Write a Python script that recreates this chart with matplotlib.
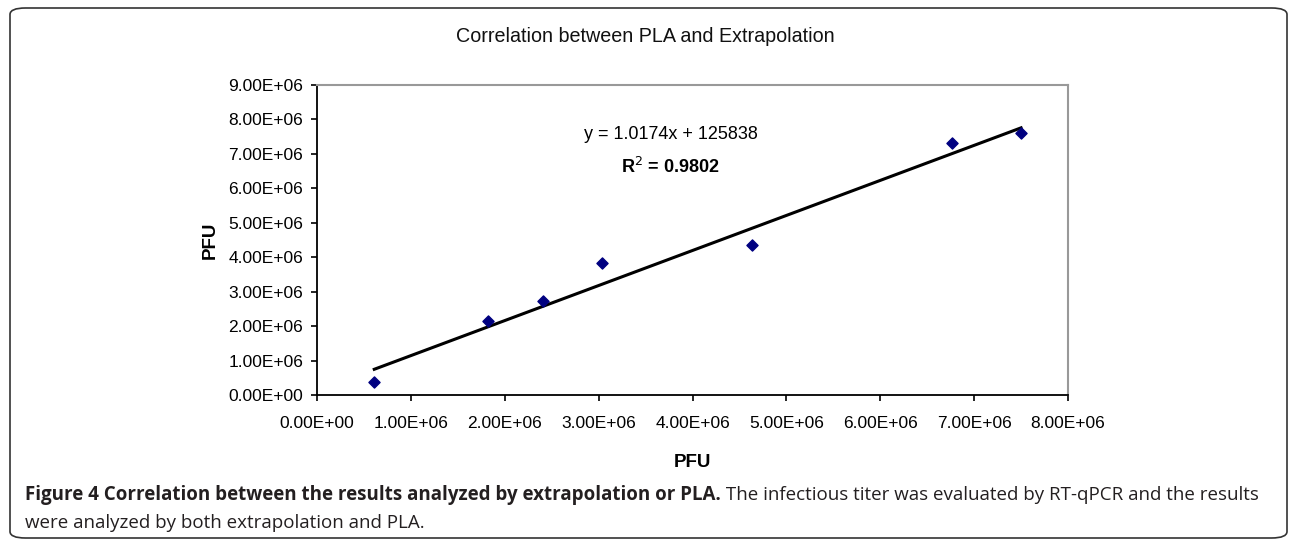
import matplotlib
matplotlib.use("Agg")
import matplotlib.pyplot as plt
from matplotlib.patches import FancyBboxPatch
import numpy as np

# PFU by extrapolation (x) vs PFU by PLA (y)
pfu_extrap = [0.61e6, 1.82e6, 2.41e6, 3.04e6, 4.63e6, 6.76e6, 7.50e6]
pfu_pla = [0.38e6, 2.15e6, 2.74e6, 3.83e6, 4.36e6, 7.33e6, 7.61e6]

# trendline as printed on the chart
slope = 1.0174
intercept = 125838
r2 = 0.9802

x_ticks = np.arange(0, 8.5e6, 1e6)
y_ticks = np.arange(0, 9.5e6, 1e6)


def sci(v):
    if v == 0:
        return "0.00E+00"
    return "%.2fE+06" % (v / 1e6)


fig = plt.figure(figsize=(12.9, 5.4), dpi=100)

# rounded outer frame
frame = FancyBboxPatch((10 / 1290, 2 / 540), 1277 / 1290, 530 / 540,
                       boxstyle="round,pad=0,rounding_size=0.012",
                       transform=fig.transFigure, fill=False,
                       edgecolor="#333333", linewidth=1.2)
fig.patches.append(frame)

ax = fig.add_axes([317 / 1290, 1 - 395 / 540, (1068 - 317) / 1290, (395 - 85) / 540])

xs = np.array([min(pfu_extrap), max(pfu_extrap)])
ax.plot(xs, slope * xs + intercept, color="black", lw=2.2, zorder=2)
ax.scatter(pfu_extrap, pfu_pla, marker="D", s=32, color="#000080", zorder=3)

ax.set_xlim(0, 8e6)
ax.set_ylim(0, 9e6)
ax.set_xticks(x_ticks)
ax.set_yticks(y_ticks)
ax.set_xticklabels([sci(v) for v in x_ticks], family="Liberation Sans", fontsize=12.5)
ax.set_yticklabels([sci(v) for v in y_ticks], family="Liberation Sans", fontsize=12.5)
ax.tick_params(axis="both", direction="out", length=4, width=1.2, color="black")
ax.tick_params(axis="x", pad=11)
ax.tick_params(axis="y", pad=6)

for side in ["left", "bottom"]:
    ax.spines[side].set_color("black")
    ax.spines[side].set_linewidth(1.3)
for side in ["top", "right"]:
    ax.spines[side].set_color("#999999")
    ax.spines[side].set_linewidth(1.5)

ax.set_xlabel("PFU", family="Liberation Sans", fontsize=13.5, fontweight="bold", labelpad=17)
ax.set_ylabel("PFU", family="Liberation Sans", fontsize=13.5, fontweight="bold", labelpad=7)

ax.text(3.77e6, 7.56e6, "y = %.4fx + %d" % (slope, intercept), ha="center", va="center",
        family="Liberation Sans", fontsize=13)
ax.text(3.76e6, 6.63e6, "R$^2$ = %.4f" % r2, ha="center", va="center",
        family="Liberation Sans", fontsize=13, fontweight="bold")

fig.text(0.5, 1 - 37 / 540, "Correlation between PLA and Extrapolation", ha="center", va="center",
         family="Liberation Sans", fontsize=14.2, color="#111111")

# caption under the chart
cap_bold = "Figure 4 Correlation between the results analyzed by extrapolation or PLA."
cap_rest = " The infectious titer was evaluated by RT-qPCR and the results"
t1 = fig.text(25 / 1290, 1 - 495 / 540, cap_bold, ha="left", va="center",
              family="Open Sans", fontsize=13.5, fontweight="bold", color="#231f20")
fig.canvas.draw()
bb = t1.get_window_extent()
fig.text(bb.x1 / 1290, 1 - 495 / 540, cap_rest, ha="left", va="center",
         family="Open Sans", fontsize=13.5, color="#231f20")
fig.text(25 / 1290, 1 - 523 / 540, "were analyzed by both extrapolation and PLA.", ha="left", va="center",
         family="Open Sans", fontsize=13.5, color="#231f20")

fig.savefig("out.png", dpi=100)
